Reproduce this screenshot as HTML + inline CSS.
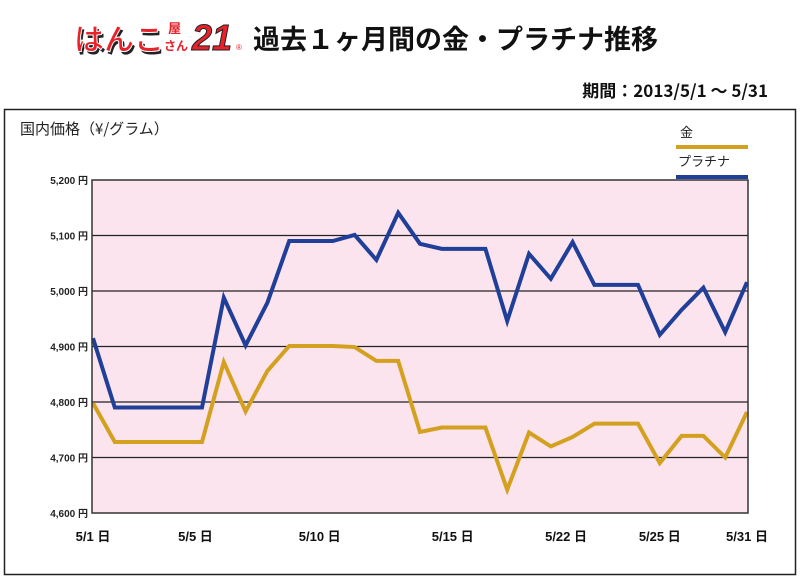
<!DOCTYPE html>
<html><head><meta charset="utf-8">
<style>
body{margin:0;background:#fff;width:800px;height:579px;overflow:hidden;font-family:"Liberation Sans","Noto Sans CJK JP",sans-serif;}
</style></head>
<body>
<svg width="800" height="579" xmlns="http://www.w3.org/2000/svg">
  <g>
    <text x="74" y="50" font-size="30" font-weight="bold" fill="#222" font-family="'Noto Sans CJK JP',sans-serif" transform="translate(2,3)">はんこ</text>
    <text x="74" y="50" font-size="30" font-weight="bold" fill="#e8212b" stroke="#fff" stroke-width="1" font-family="'Noto Sans CJK JP',sans-serif">はんこ</text>
    <text x="168" y="33" font-size="13" font-weight="bold" fill="#e8212b" font-family="'Noto Sans CJK JP',sans-serif">屋</text>
    <text x="164" y="50" font-size="12" font-weight="bold" fill="#e8212b" font-family="'Noto Sans CJK JP',sans-serif">さん</text>
    <text x="192" y="50" font-size="36" font-weight="bold" fill="#e8212b" stroke="#222" stroke-width="1" font-style="italic">21</text>
    <text x="236" y="50" font-size="8" fill="#e8212b">®</text>
  </g>
  <text x="253" y="49" font-size="27" font-weight="bold" fill="#111" font-family="'Noto Sans CJK JP',sans-serif">過去１ヶ月間の金・プラチナ推移</text>
  <text x="768" y="97" font-size="17" font-weight="bold" text-anchor="end" fill="#111" font-family="'Noto Sans CJK JP',sans-serif">期間：2013/5/1 ～ 5/31</text>
  <rect x="4.5" y="109.5" width="791" height="465" fill="none" stroke="#222" stroke-width="1.5"/>
  <text x="20" y="134" font-size="15" fill="#222" font-family="'Noto Sans CJK JP',sans-serif">国内価格（¥/グラム）</text>
  <g>
    <text x="680" y="137" font-size="13" fill="#222" font-family="'Noto Sans CJK JP',sans-serif">金</text>
    <rect x="676" y="145" width="72" height="4" fill="#d4a020"/>
    <text x="678" y="166" font-size="13" fill="#222" font-family="'Noto Sans CJK JP',sans-serif">プラチナ</text>
    <rect x="676" y="175" width="72" height="4" fill="#1f3f98"/>
  </g>
  <rect x="92" y="180" width="656" height="333" fill="#fce4ee"/>
  <g id="grid"></g>
  <g id="series"></g>
  <rect x="92" y="180" width="656" height="333" fill="none" stroke="#333" stroke-width="1.5"/>
  <g id="xlabels"></g>
</svg>
<script>
const yTicks = [4600, 4700, 4800, 4900, 5000, 5100, 5200];
const yTickLabels = ["4,600 円","4,700 円","4,800 円","4,900 円","5,000 円","5,100 円","5,200 円"];
const xLabels = ["5/1 日","5/5 日","5/10 日","5/15 日","5/22 日","5/25 日","5/31 日"];
const xLabelDays = [0, 4.7, 10.4, 16.5, 21.7, 26, 30];
const goldValues = [4798,4728,4728,4728,4728,4728,4872,4783,4856,4901,4901,4901,4899,4874,4874,4746,4754,4754,4754,4642,4745,4720,4737,4761,4761,4761,4690,4739,4739,4700,4782];
const platinumValues = [4915,4790,4790,4790,4790,4790,4988,4902,4979,5090,5090,5090,5101,5056,5141,5085,5076,5076,5076,4946,5067,5022,5088,5011,5011,5011,4921,4966,5006,4926,5016];

const NS = "http://www.w3.org/2000/svg";
const X0 = 93, X1 = 747, Y0 = 513, Y1 = 180, VMIN = 4600, VMAX = 5200, NDAYS = 30;
function xs(d){ return X0 + (X1 - X0) * d / NDAYS; }
function ys(v){ return Y0 - (Y0 - Y1) * (v - VMIN) / (VMAX - VMIN); }

const grid = document.getElementById('grid');
yTicks.forEach((t, i) => {
  const y = ys(t);
  if (i > 0 && i < yTicks.length - 1) {
    const l = document.createElementNS(NS, 'line');
    l.setAttribute('x1', 92); l.setAttribute('x2', 748);
    l.setAttribute('y1', y); l.setAttribute('y2', y);
    l.setAttribute('stroke', '#222'); l.setAttribute('stroke-width', '1.3');
    
    
    grid.appendChild(l);
  }
  const tx = document.createElementNS(NS, 'text');
  tx.setAttribute('x', 88); tx.setAttribute('y', y + 4);
  tx.setAttribute('text-anchor', 'end');
  tx.setAttribute('font-size', '10');
  tx.setAttribute('font-weight', 'bold');
  tx.setAttribute('fill', '#222');
  tx.setAttribute('font-family', "'Liberation Sans','Noto Sans CJK JP',sans-serif");
  tx.textContent = yTickLabels[i];
  
  
  grid.appendChild(tx);
});

const series = document.getElementById('series');
function drawLine(vals, color, name){
  const p = document.createElementNS(NS, 'polyline');
  p.setAttribute('points', vals.map((v, i) => xs(i) + ',' + ys(v)).join(' '));
  p.setAttribute('fill', 'none');
  p.setAttribute('stroke', color);
  p.setAttribute('stroke-width', '4');
  p.setAttribute('stroke-linejoin', 'miter');
  
  
  series.appendChild(p);
}
drawLine(goldValues, '#d4a020', 'gold-line');
drawLine(platinumValues, '#1f3f98', 'platinum-line');

const xl = document.getElementById('xlabels');
xLabels.forEach((s, i) => {
  const t = document.createElementNS(NS, 'text');
  t.setAttribute('x', xs(xLabelDays[i]));
  t.setAttribute('y', 541);
  t.setAttribute('text-anchor', 'middle');
  t.setAttribute('font-size', '13');
  t.setAttribute('font-weight', 'bold');
  t.setAttribute('fill', '#111');
  t.setAttribute('font-family', "'Liberation Sans','Noto Sans CJK JP',sans-serif");
  t.textContent = s;
  
  
  xl.appendChild(t);
});
</script>
</body></html>
